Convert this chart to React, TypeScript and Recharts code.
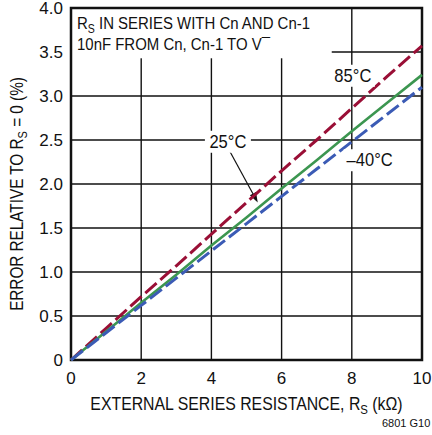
import React from "react"
import {
  LineChart,
  Line,
  XAxis,
  YAxis,
  CartesianGrid,
  ReferenceArea,
  ReferenceDot,
  ReferenceLine,
  Label,
} from "recharts"

// external series resistance (kΩ)
const resistance = [0, 1, 2, 3, 4, 5, 6, 7, 8, 9, 10]
// error relative to Rs = 0 (%)
const err85 = [0, 0.36, 0.72, 1.07, 1.43, 1.79, 2.15, 2.5, 2.86, 3.22, 3.57]
const err25 = [0, 0.325, 0.65, 0.97, 1.3, 1.62, 1.95, 2.27, 2.6, 2.92, 3.24]
const errM40 = [0, 0.31, 0.62, 0.93, 1.24, 1.55, 1.86, 2.17, 2.48, 2.79, 3.1]

const xTicks = [0, 2, 4, 6, 8, 10]
const xTickLabels = ["0", "2", "4", "6", "8", "10"]
const yTicks = [0, 0.5, 1, 1.5, 2, 2.5, 3, 3.5, 4]
const yTickLabels = ["0", "0.5", "1.0", "1.5", "2.0", "2.5", "3.0", "3.5", "4.0"]

const chartData = resistance.map((r, i) => ({
  r,
  t85: err85[i],
  t25: err25[i],
  tm40: errM40[i],
}))

const FONT = "'Liberation Sans Narrow', 'Arial Narrow', 'Liberation Sans', sans-serif"
const RED = "#9a0f36"
const GREEN = "#3c9650"
const BLUE = "#3b5bb5"
const NARROW = 0.88 // horizontal squeeze, the original uses a condensed face

const XTitle = ({ viewBox }: any) => {
  const cx = viewBox.x + viewBox.width / 2
  const y = viewBox.y + 50
  return (
    <text
      transform={`translate(${cx} ${y}) scale(${NARROW} 1)`}
      textAnchor="middle"
      fontSize={18}
      fill="#111"
      fontFamily={FONT}
    >
      EXTERNAL SERIES RESISTANCE, R
      <tspan fontSize={13} dy={4}>S</tspan>
      <tspan dy={-4}> (kΩ)</tspan>
    </text>
  )
}

const YTitle = ({ viewBox }: any) => {
  const cy = viewBox.y + 186
  return (
    <text
      transform={`translate(23 ${cy}) rotate(-90) scale(0.85 1)`}
      textAnchor="middle"
      fontSize={18}
      fill="#111"
      fontFamily={FONT}
    >
      ERROR RELATIVE TO R
      <tspan fontSize={13} dy={4}>S</tspan>
      <tspan dy={-4}> = 0 (%)</tspan>
    </text>
  )
}

// white-backed temperature tag
const tag = (text: string, w: number) => (props: any) => {
  const { cx, cy } = props
  return (
    <g>
      <rect x={cx - w / 2} y={cy - 11} width={w} height={22} fill="#fff" />
      <text
        transform={`translate(${cx} ${cy + 6}) scale(0.92 1)`}
        textAnchor="middle"
        fontSize={18}
        fill="#111"
        fontFamily={FONT}
      >
        {text}
      </text>
    </g>
  )
}

const TitleBox = (props: any) => {
  const { x, y, width, height } = props
  return (
    <g>
      <rect x={x + 1} y={y + 1} width={width} height={height} fill="#fff" />
      <text
        transform={`translate(${x + 6} ${y + 21}) scale(${NARROW} 1)`}
        fontSize={17}
        fill="#111"
        fontFamily={FONT}
      >
        R<tspan fontSize={12} dy={4}>S</tspan>
        <tspan dy={-4}> IN SERIES WITH Cn AND Cn-1</tspan>
      </text>
      <text
        transform={`translate(${x + 6} ${y + 42}) scale(${NARROW} 1)`}
        fontSize={17}
        fill="#111"
        fontFamily={FONT}
      >
        10nF FROM  Cn, Cn-1 TO V¯
      </text>
    </g>
  )
}

const Arrow = (props: any) => {
  const { x1, y1, x2, y2 } = props
  const ang = Math.atan2(y2 - y1, x2 - x1)
  const len = 10
  const half = 3.5
  const bx = x2 - len * Math.cos(ang)
  const by = y2 - len * Math.sin(ang)
  const px = -Math.sin(ang) * half
  const py = Math.cos(ang) * half
  return (
    <g>
      <line x1={x1} y1={y1} x2={bx} y2={by} stroke="#111" strokeWidth={1.2} />
      <polygon points={`${x2},${y2} ${bx + px},${by + py} ${bx - px},${by - py}`} fill="#111" />
    </g>
  )
}

export default function App() {
  return (
    <div style={{ position: "absolute", left: 0, top: 0, background: "#fff" }}>
      <LineChart
        width={432}
        height={435}
        data={chartData}
        margin={{ top: 8, right: 10, left: 0, bottom: 0 }}
        style={{ fontFamily: FONT }}
      >
        <CartesianGrid stroke="#111" strokeWidth={1.4} />
        <XAxis
          dataKey="r"
          type="number"
          domain={[0, 10]}
          ticks={xTicks}
          tickFormatter={(v: number) => xTickLabels[xTicks.indexOf(v)]}
          axisLine={false}
          tickLine={false}
          tickMargin={6}
          height={75}
          tick={{ fontSize: 17, fill: "#111" }}
          interval={0}
        >
          <Label content={<XTitle />} />
        </XAxis>
        <YAxis
          type="number"
          domain={[0, 4]}
          ticks={yTicks}
          tickFormatter={(v: number) => yTickLabels[yTicks.indexOf(v)]}
          axisLine={false}
          tickLine={false}
          width={71}
          tick={{ fontSize: 17, fill: "#111" }}
          interval={0}
        >
          <Label content={<YTitle />} />
        </YAxis>
        <ReferenceArea x1={0} x2={7.4} y1={3.44} y2={4} shape={<TitleBox />} />
        <ReferenceArea x1={0} x2={10} y1={0} y2={4} fill="none" stroke="#111" strokeWidth={2.5} />
        <ReferenceDot x={8.03} y={3.23} r={0} shape={tag("85°C", 44)} />
        <ReferenceDot x={4.47} y={2.48} r={0} shape={tag("25°C", 46)} />
        <ReferenceDot x={8.51} y={2.27} r={0} shape={tag("–40°C", 52)} />
        <ReferenceLine
          segment={[
            { x: 4.5, y: 2.39 },
            { x: 5.32, y: 1.79 },
          ]}
          shape={<Arrow />}
        />
        <Line
          dataKey="t85"
          stroke={RED}
          strokeWidth={3}
          strokeDasharray="15 5"
          dot={false}
          isAnimationActive={false}
        />
        <Line dataKey="t25" stroke={GREEN} strokeWidth={2.6} dot={false} isAnimationActive={false} />
        <Line
          dataKey="tm40"
          stroke={BLUE}
          strokeWidth={3}
          strokeDasharray="15 5"
          dot={false}
          isAnimationActive={false}
        />
      </LineChart>
      <div
        style={{
          position: "absolute",
          left: 382,
          top: 417,
          fontSize: 11,
          fontFamily: FONT,
          color: "#111",
        }}
      >
        6801 G10
      </div>
    </div>
  )
}
